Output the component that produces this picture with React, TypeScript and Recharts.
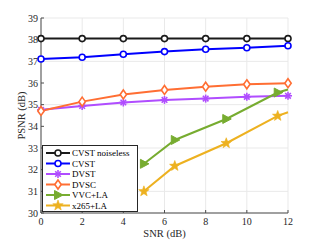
import { LineChart, Line, XAxis, YAxis, CartesianGrid } from 'recharts';

const snrFull = [0, 2, 4, 6, 8, 10, 12];
const cvstNoiseless = [38.05, 38.05, 38.05, 38.05, 38.05, 38.05, 38.05];
const cvst = [37.11, 37.19, 37.33, 37.45, 37.56, 37.63, 37.72];
const dvst = [34.76, 34.94, 35.1, 35.22, 35.28, 35.36, 35.41];
const dvsc = [34.71, 35.14, 35.47, 35.68, 35.83, 35.94, 35.99];

const snrLa = [5, 6.5, 9, 11.5, 12];
const vvcLa = [32.27, 33.37, 34.34, 35.56, 35.7];
const x265La = [31.0, 32.17, 33.22, 34.48, 34.65];

const xTicks = [0, 2, 4, 6, 8, 10, 12];
const yTicks = [30, 31, 32, 33, 34, 35, 36, 37, 38, 39];

const FONT = '"Liberation Serif", "Times New Roman", serif';

const toRows = (xs: number[], ys: number[]) => xs.map((x, i) => ({ x, y: ys[i] }));

type Shape = 'circle' | 'asterisk' | 'diamond' | 'triangle' | 'star';

const marker = (shape: Shape, cx: number, cy: number, color: string, key?: string) => {
  switch (shape) {
    case 'circle':
      return <circle key={key} cx={cx} cy={cy} r={3} fill="#fff" stroke={color} strokeWidth={1.6} />;
    case 'asterisk':
      return (
        <g key={key} stroke={color} strokeWidth={1.6}>
          <line x1={cx - 4} y1={cy} x2={cx + 4} y2={cy} />
          <line x1={cx} y1={cy - 4} x2={cx} y2={cy + 4} />
          <line x1={cx - 2.8} y1={cy - 2.8} x2={cx + 2.8} y2={cy + 2.8} />
          <line x1={cx - 2.8} y1={cy + 2.8} x2={cx + 2.8} y2={cy - 2.8} />
        </g>
      );
    case 'diamond':
      return (
        <polygon
          key={key}
          points={`${cx},${cy - 4.5} ${cx + 3.2},${cy} ${cx},${cy + 4.5} ${cx - 3.2},${cy}`}
          fill="#fff"
          stroke={color}
          strokeWidth={1.6}
        />
      );
    case 'triangle':
      return (
        <polygon
          key={key}
          points={`${cx + 5},${cy} ${cx - 3.5},${cy - 4.5} ${cx - 3.5},${cy + 4.5}`}
          fill={color}
          stroke={color}
          strokeWidth={1}
        />
      );
    case 'star': {
      const pts: string[] = [];
      for (let i = 0; i < 10; i++) {
        const r = i % 2 === 0 ? 5.5 : 2.3;
        const a = -Math.PI / 2 + (i * Math.PI) / 5;
        pts.push(`${cx + r * Math.cos(a)},${cy + r * Math.sin(a)}`);
      }
      return <polygon key={key} points={pts.join(' ')} fill={color} stroke={color} strokeWidth={0.6} />;
    }
  }
};

const series = [
  { name: 'CVST noiseless', color: '#1a1a1a', shape: 'circle' as Shape, data: toRows(snrFull, cvstNoiseless), lastNoMark: false },
  { name: 'CVST', color: '#0000ff', shape: 'circle' as Shape, data: toRows(snrFull, cvst), lastNoMark: false },
  { name: 'DVST', color: '#b04dff', shape: 'asterisk' as Shape, data: toRows(snrFull, dvst), lastNoMark: false },
  { name: 'DVSC', color: '#ff6e33', shape: 'diamond' as Shape, data: toRows(snrFull, dvsc), lastNoMark: false },
  { name: 'VVC+LA', color: '#77ac30', shape: 'triangle' as Shape, data: toRows(snrLa, vvcLa), lastNoMark: true },
  { name: 'x265+LA', color: '#edb120', shape: 'star' as Shape, data: toRows(snrLa, x265La), lastNoMark: true },
];

// legend box sits over the lower-left of the plot, as in the figure
const LegendBox = () => (
  <svg width={96} height={67} style={{ position: 'absolute', left: 42, top: 145, display: 'block' }}>
    <rect x={0.5} y={0.5} width={95} height={66} fill="#fff" stroke="#262626" strokeWidth={1} />
    {series.map((s, i) => {
      const cy = 8 + i * 10.5;
      return (
        <g key={s.name}>
          <line x1={4} y1={cy} x2={28} y2={cy} stroke={s.color} strokeWidth={2} />
          {marker(s.shape, 16, cy, s.color)}
          <text x={30} y={cy + 3.2} fontFamily={FONT} fontSize={9} fill="#000">
            {s.name}
          </text>
        </g>
      );
    })}
  </svg>
);

const App = () => (
  <div style={{ position: 'absolute', left: 0, top: 0, width: 319, height: 240 }}>
    <LineChart width={319} height={240} margin={{ top: 18, right: 31, left: 0, bottom: 0 }}>
      <CartesianGrid stroke="#e9e9e9" strokeWidth={1} />
      <XAxis
        type="number"
        dataKey="x"
        domain={[0, 12]}
        ticks={xTicks}
        height={27}
        stroke="#4d4d4d"
        tickSize={-3}
        tickMargin={8}
        tick={{ fontFamily: FONT, fontSize: 10, fill: '#262626' }}
        label={(props: any) => {
          const vb = props.viewBox;
          return (
            <text x={vb.x + vb.width / 2} y={vb.y + 24} textAnchor="middle" fontFamily={FONT} fontSize={10.5} fill="#262626">
              SNR (dB)
            </text>
          );
        }}
      />
      <YAxis
        type="number"
        domain={[30, 39]}
        ticks={yTicks}
        width={41}
        stroke="#4d4d4d"
        tickSize={-3}
        tickMargin={6}
        tick={{ fontFamily: FONT, fontSize: 10, fill: '#262626' }}
        label={(props: any) => {
          const vb = props.viewBox;
          const cx = 21;
          const cy = vb.y + vb.height / 2;
          return (
            <text x={cx} y={cy} transform={`rotate(-90 ${cx} ${cy})`} textAnchor="middle" dominantBaseline="central" fontFamily={FONT} fontSize={10.5} fill="#262626">
              PSNR (dB)
            </text>
          );
        }}
      />
      {series.map((s) => (
        <Line
          key={s.name}
          data={s.data}
          dataKey="y"
          name={s.name}
          stroke={s.color}
          strokeWidth={2}
          isAnimationActive={false}
          dot={(p: any) => {
            if (s.lastNoMark && p.index === s.data.length - 1) return <g key={`d${p.index}`} />;
            return marker(s.shape, p.cx, p.cy, s.color, `d${p.index}`) as any;
          }}
          activeDot={false}
        />
      ))}
    </LineChart>
    <LegendBox />
  </div>
);

export default App;
